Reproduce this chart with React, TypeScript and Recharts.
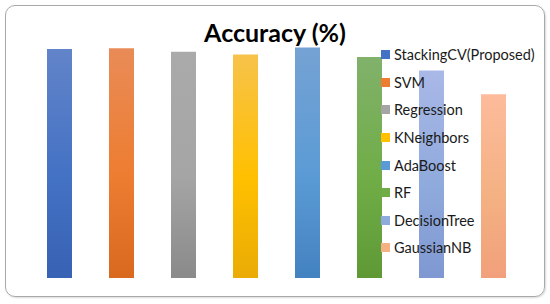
import React from 'react';
import { BarChart, Bar, Cell, XAxis, YAxis } from 'recharts';

const models = [
  'StackingCV(Proposed)',
  'SVM',
  'Regression',
  'KNeighbors',
  'AdaBoost',
  'RF',
  'DecisionTree',
  'GaussianNB',
];
const accuracy = [98.7, 99.0, 97.5, 96.3, 99.4, 95.3, 89.4, 79.2];

// top / bottom colours of each bar's gradient
const topColors = ['#6284c9', '#e98b57', '#aaaaaa', '#f7c24a', '#75a2d3', '#81b16b', '#a9b8e7', '#fdbb9c'];
const bottomColors = ['#3862b3', '#d8691f', '#8a8a8a', '#eaab06', '#4382c0', '#5e9935', '#8098d2', '#f1a07b'];
const swatchColors = ['#4472c4', '#ed7d31', '#a5a5a5', '#ffc000', '#5b9bd5', '#70ad47', '#8faadc', '#f4b183'];

const data = models.map((name, i) => ({ name, value: accuracy[i] }));

const LegendList = () => (
  <div
    style={{
      position: 'absolute',
      left: 381,
      top: 41,
      fontFamily: 'Lato, sans-serif',
      fontSize: 14.5,
      color: '#1a1a1a',
      zIndex: 2,
    }}
  >
    {models.map((m, i) => (
      <div key={m} style={{ display: 'flex', alignItems: 'center', height: 27.6 }}>
        <span
          style={{
            display: 'inline-block',
            width: 9,
            height: 9,
            background: swatchColors[i],
            marginRight: 4,
          }}
        />
        <span>{m}</span>
      </div>
    ))}
  </div>
);

export default function App() {
  return (
    <div style={{ position: 'relative', width: 550, height: 304, background: '#fff' }}>
      <style>{'body{margin:0}'}</style>
      <div
        style={{
          position: 'absolute',
          left: 5,
          top: 5,
          width: 538,
          height: 290,
          border: '1.5px solid #a9a9a9',
          borderRadius: 10,
          boxShadow: '1px 1px 2px rgba(0,0,0,0.15)',
        }}
      />
      <BarChart
        width={550}
        height={304}
        data={data}
        margin={{ top: 46, right: 26, bottom: 26, left: 28 }}
        style={{ position: 'absolute', left: 0, top: 0 }}
      >
        <defs>
          {models.map((m, i) => (
            <linearGradient key={m} id={`g${i}`} x1="0" y1="0" x2="0" y2="1">
              <stop offset="0%" stopColor={topColors[i]} />
              <stop offset="55%" stopColor={swatchColors[i]} />
              <stop offset="100%" stopColor={bottomColors[i]} />
            </linearGradient>
          ))}
        </defs>
        <XAxis dataKey="name" tick={false} tickLine={false} height={0} axisLine={{ stroke: '#bfbfbf', strokeWidth: 1.5 }} />
        <YAxis hide domain={[0, 100]} />
        <Bar dataKey="value" barSize={25} isAnimationActive={false}>
          {data.map((d, i) => (
            <Cell key={d.name} fill={`url(#g${i})`} />
          ))}
        </Bar>
      </BarChart>
      <div
        style={{
          position: 'absolute',
          left: 0,
          width: 550,
          top: 17,
          textAlign: 'center',
          fontFamily: 'Lato, sans-serif',
          fontWeight: 700,
          fontSize: 25,
          color: '#000',
          zIndex: 2,
        }}
      >
        Accuracy (%)
      </div>
      <LegendList />
    </div>
  );
}
